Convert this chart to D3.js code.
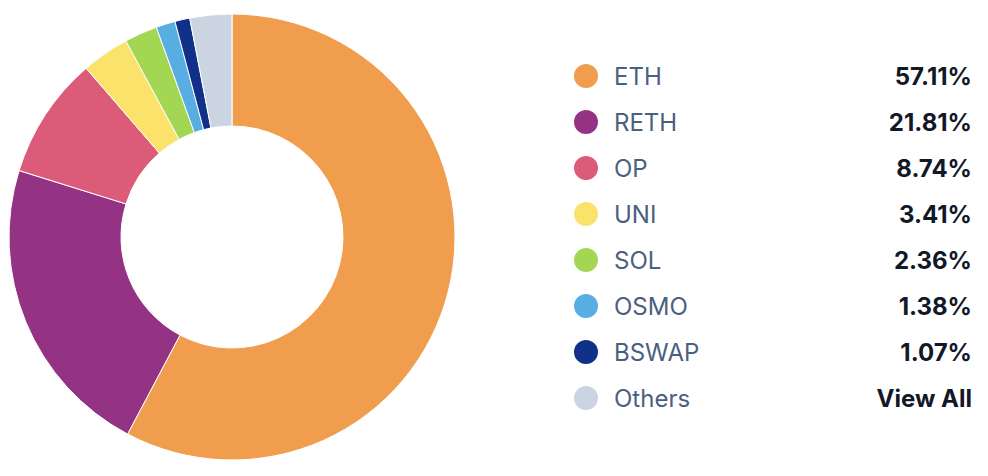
<!DOCTYPE html>
<html>
<head>
<meta charset="utf-8">
<script src="https://cdn.jsdelivr.net/npm/d3@7"></script>
<style>
  html, body { margin: 0; padding: 0; background: #ffffff; }
  svg { display: block; }
</style>
</head>
<body>
<svg id="chart" width="988" height="476"></svg>
<script>
const categories = ["ETH", "RETH", "OP", "UNI", "SOL", "OSMO", "BSWAP", "Others"];
const shares = [57.11, 21.81, 8.74, 3.41, 2.36, 1.38, 1.07, 3.0];
const valueLabels = ["57.11%", "21.81%", "8.74%", "3.41%", "2.36%", "1.38%", "1.07%", "View All"];
const colors = ["#F09E4E", "#943384", "#DC5B79", "#FBE36B", "#A3D753", "#58AEE3", "#10308A", "#CBD5E1"];

const svg = d3.select("#chart");
const cx = 232, cy = 237, outerR = 223, innerR = 111;

const data = categories.map((c, i) => ({ name: c, value: shares[i], color: colors[i], label: valueLabels[i] }));

const pie = d3.pie().value(d => d.value).sort(null).startAngle(0).endAngle(2 * Math.PI);
const arc = d3.arc().innerRadius(innerR).outerRadius(outerR);

svg.append("g")
  .attr("transform", `translate(${cx},${cy})`)
  .selectAll("path")
  .data(pie(data))
  .join("path")
  .attr("d", arc)
  .attr("fill", d => d.data.color)
  .attr("stroke", "#ffffff")
  .attr("stroke-width", 1);

const y = d3.scalePoint().domain(categories).range([76, 398]);

const legend = svg.append("g");
const rows = legend.selectAll("g").data(data).join("g")
  .attr("transform", d => `translate(0,${y(d.name)})`);

rows.append("circle")
  .attr("cx", 586).attr("cy", 0).attr("r", 12)
  .attr("fill", d => d.color);

rows.append("text")
  .attr("x", 614).attr("y", 0)
  .attr("dy", "0.36em")
  .attr("font-family", "Inter, 'Noto Sans', sans-serif")
  .attr("font-size", 24)
  .attr("fill", "#4A6080")
  .text(d => d.name);

rows.append("text")
  .attr("x", 972).attr("y", 0)
  .attr("dy", "0.36em")
  .attr("text-anchor", "end")
  .attr("font-family", "Inter, 'Noto Sans', sans-serif")
  .attr("font-size", 24)
  .attr("font-weight", 700)
  .attr("fill", "#111827")
  .text(d => d.label);
</script>
</body>
</html>
